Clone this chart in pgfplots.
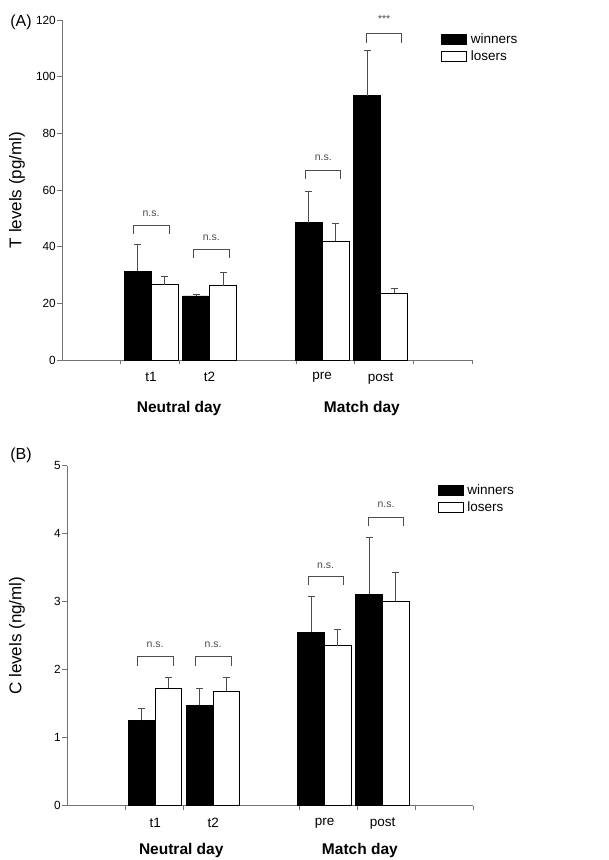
\documentclass[border=0pt]{standalone}
\usepackage{fontspec}
\setmainfont{Liberation Sans}
\usepackage{pgfplots}
\pgfplotsset{compat=1.18}
\definecolor{axgray}{gray}{0.45}
\definecolor{ergray}{gray}{0.3}
\definecolor{brgray}{gray}{0.3}
\tikzset{ns/.style={font=\fontsize{10.5}{12}\selectfont, text=brgray}}
\pgfplotsset{
 myax/.style={
  scale only axis, clip=false,
  xmin=0, xmax=7, ymin=0,
  axis x line=bottom, axis y line=left,
  axis line style={-, draw=axgray, line width=0.8pt},
  xtick={1,2,4,5,6,7}, xticklabels={},
  major tick length=4.5pt, tick align=outside,
  tick style={draw=axgray, line width=0.8pt},
  extra x ticks={1.52,2.52,4.44,5.44},
  extra x tick labels={t1,t2,pre,post},
  extra x tick style={major tick length=0pt, xticklabel style={yshift=-9pt, font=\fontsize{13.5}{15}\selectfont}},
  tick label style={font=\fontsize{11.8}{13}\selectfont, /pgf/number format/assume math mode=true},
  yticklabel style={inner xsep=1.5pt},
  ylabel style={font=\fontsize{17}{19}\selectfont},
  legend cell align=left,
  legend style={anchor=north west, draw=none, fill=none, inner sep=0pt,
    font=\fontsize{13.5}{15}\selectfont, row sep=3pt, column sep=2pt, nodes={inner sep=1.5pt}},
  legend image code/.code={\draw[##1, line width=0.9pt] (0pt,-5pt) rectangle (25pt,5pt);},
 },
 wbar/.style={ybar, bar width=0.46, bar shift=0pt, fill=black, draw=black, line width=0.9pt,
   error bars/.cd, y dir=plus, y explicit, error bar style={ergray, line width=0.8pt},
   error mark options={ergray, line width=0.8pt, mark size=3.5pt, rotate=90}},
 lbar/.style={ybar, bar width=0.46, bar shift=0pt, fill=white, draw=black, line width=0.9pt,
   error bars/.cd, y dir=plus, y explicit, error bar style={ergray, line width=0.8pt},
   error mark options={ergray, line width=0.8pt, mark size=3.5pt, rotate=90}},
}
\newcommand{\bracket}[4]{% x1,x2,ytop,ybot
  \draw[brgray, line width=0.9pt] (axis cs:#1,#4) -- (axis cs:#1,#3) -- (axis cs:#2,#3) -- (axis cs:#2,#4);}
\begin{document}
\begin{tikzpicture}[x=1pt,y=1pt]
\useasboundingbox (0,0) rectangle (609,860);
\node[font=\fontsize{16}{18}\selectfont] at (21,838) {(A)};
\node[font=\fontsize{16}{18}\selectfont] at (21,405) {(B)};
% Panel A
\begin{axis}[myax, at={(62pt,500pt)}, anchor=south west, width=410pt, height=340pt,
  ymax=120, ytick={0,20,...,120},
  ylabel={T levels (pg/ml)},
  ylabel style={at={(axis description cs:-0.11,0.5)}, anchor=center},
  legend style={at={(axis description cs:0.925,0.965)}}]
\addplot[wbar] table[x=x, y=y, y error=e] {
x y e
1.29 31.4 9.4
2.29 22.6 0.7
4.21 48.5 11.0
5.21 93.2 16.2
};
\addlegendentry{winners}
\addplot[lbar] table[x=x, y=y, y error=e] {
x y e
1.75 26.5 3.0
2.75 26.2 4.6
4.67 41.9 6.3
5.67 23.6 1.8
};
\addlegendentry{losers}
\bracket{1.22}{1.83}{47.4}{44.4}
\bracket{2.25}{2.86}{39.1}{36.0}
\bracket{4.16}{4.76}{66.9}{63.8}
\bracket{5.20}{5.80}{115.3}{112.0}
\node[ns] at (axis cs:1.52,51.6) {n.s.};
\node[ns] at (axis cs:2.55,43.0) {n.s.};
\node[ns] at (axis cs:4.46,71.5) {n.s.};
\node[ns] at (axis cs:5.50,120.5) {***};
\node[font=\bfseries\fontsize{15.5}{18}\selectfont, yshift=-48pt] at (axis cs:2.0,0) {Neutral day};
\node[font=\bfseries\fontsize{15.5}{18}\selectfont, yshift=-48pt] at (axis cs:5.12,0) {Match day};
\end{axis}
% Panel B
\begin{axis}[myax, at={(67pt,54.3pt)}, anchor=south west, width=406pt, height=340pt,
  ymax=5, ytick={0,1,...,5},
  ylabel={C levels (ng/ml)},
  ylabel style={at={(axis description cs:-0.123,0.5)}, anchor=center},
  legend style={at={(axis description cs:0.913,0.95)}}]
\addplot[wbar] table[x=x, y=y, y error=e] {
x y e
1.29 1.26 0.17
2.29 1.48 0.24
4.21 2.55 0.53
5.21 3.11 0.84
};
\addlegendentry{winners}
\addplot[lbar] table[x=x, y=y, y error=e] {
x y e
1.75 1.73 0.16
2.75 1.68 0.20
4.67 2.35 0.24
5.67 3.01 0.42
};
\addlegendentry{losers}
\bracket{1.22}{1.83}{2.19}{2.06}
\bracket{2.22}{2.83}{2.19}{2.06}
\bracket{4.16}{4.76}{3.37}{3.24}
\bracket{5.20}{5.80}{4.24}{4.11}
\node[ns] at (axis cs:1.52,2.37) {n.s.};
\node[ns] at (axis cs:2.52,2.37) {n.s.};
\node[ns] at (axis cs:4.46,3.53) {n.s.};
\node[ns] at (axis cs:5.50,4.42) {n.s.};
\node[font=\bfseries\fontsize{15.5}{18}\selectfont, yshift=-45pt] at (axis cs:1.97,0) {Neutral day};
\node[font=\bfseries\fontsize{15.5}{18}\selectfont, yshift=-45pt] at (axis cs:5.05,0) {Match day};
\end{axis}
\end{tikzpicture}
\end{document}
